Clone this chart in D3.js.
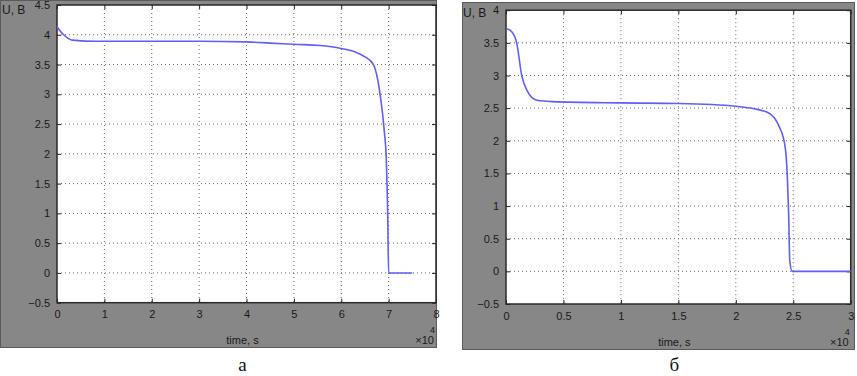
<!DOCTYPE html>
<html>
<head>
<meta charset="utf-8">
<script src="https://cdn.jsdelivr.net/npm/d3@7"></script>
<style>
  body { margin: 0; background: #fff; }
  text { font-family: "Liberation Sans", Arial, sans-serif; }
</style>
</head>
<body>
<svg id="chart" width="857" height="376"></svg>
<script>
// panel a: discharge to ~7e4 s
const timeA = [0, 0.05, 0.14, 0.32, 0.84, 2, 3, 4, 4.5, 5, 5.55, 6, 6.3, 6.5, 6.68, 6.82, 6.91, 6.95, 6.98, 7.0, 7.5];
const voltA = [4.14, 4.08, 4.0, 3.91, 3.89, 3.89, 3.89, 3.88, 3.86, 3.84, 3.82, 3.77, 3.71, 3.63, 3.5, 3.0, 2.37, 1.92, 1.0, 0, 0];
const xTicksA = [0, 1, 2, 3, 4, 5, 6, 7, 8];
const yTicksA = [-0.5, 0, 0.5, 1, 1.5, 2, 2.5, 3, 3.5, 4, 4.5];

// panel б: discharge to ~2.5e4 s
const timeB = [0, 0.05, 0.093, 0.137, 0.18, 0.27, 0.4, 1, 1.5, 2, 2.27, 2.38, 2.43, 2.45, 2.46, 2.47, 2.49, 3];
const voltB = [3.72, 3.67, 3.5, 3.0, 2.78, 2.62, 2.6, 2.58, 2.57, 2.53, 2.44, 2.21, 1.9, 1.39, 0.88, 0.16, 0, 0];
const xTicksB = [0, 0.5, 1, 1.5, 2, 2.5, 3];
const yTicksB = [-0.5, 0, 0.5, 1, 1.5, 2, 2.5, 3, 3.5, 4];

const panels = [
  { time: timeA, volt: voltA, xTicks: xTicksA, yTicks: yTicksA, xMax: 8, yMax: 4.5,
    bg: [0, 0, 437, 348], plot: [57, 5, 436, 302.7], caption: "а", yLab: [2, 14] },
  { time: timeB, volt: voltB, xTicks: xTicksB, yTicks: yTicksB, xMax: 3, yMax: 4,
    bg: [462, 2, 855, 350], plot: [506, 10.2, 850.7, 304], caption: "б", yLab: [463, 17] }
];

const svg = d3.select("#chart");

panels.forEach(p => {
  const [bx0, by0, bx1, by1] = p.bg;
  const [px0, py0, px1, py1] = p.plot;

  svg.append("rect")
    .attr("x", bx0 + 0.5).attr("y", by0 + 0.5)
    .attr("width", bx1 - bx0 - 1).attr("height", by1 - by0 - 1)
    .attr("fill", "#878787")
    .attr("stroke", "#5a5a5a");

  const x = d3.scaleLinear().domain([0, p.xMax]).range([px0, px1]);
  const y = d3.scaleLinear().domain([-0.5, p.yMax]).range([py1, py0]);

  svg.append("rect")
    .attr("x", px0).attr("y", py0)
    .attr("width", px1 - px0).attr("height", py1 - py0)
    .attr("fill", "#fff");

  const g = svg.append("g");

  // dotted grid
  g.selectAll(".vg").data(p.xTicks.slice(1, -1)).join("line")
    .attr("x1", d => x(d)).attr("x2", d => x(d))
    .attr("y1", py0).attr("y2", py1)
    .attr("stroke", "#666").attr("stroke-width", 1)
    .attr("stroke-dasharray", "1,3");
  g.selectAll(".hg").data(p.yTicks.slice(1, -1)).join("line")
    .attr("x1", px0).attr("x2", px1)
    .attr("y1", d => y(d)).attr("y2", d => y(d))
    .attr("stroke", "#666").attr("stroke-width", 1)
    .attr("stroke-dasharray", "1,3");

  // axes with inward ticks
  const xAxis = d3.axisBottom(x).tickValues(p.xTicks).tickSizeInner(-4).tickSizeOuter(0)
    .tickFormat(d3.format("~g")).tickPadding(8);
  const yAxis = d3.axisLeft(y).tickValues(p.yTicks).tickSizeInner(-4).tickSizeOuter(0)
    .tickFormat(d3.format("~g")).tickPadding(7);
  const xTop = d3.axisTop(x).tickValues(p.xTicks).tickSizeInner(-4).tickSizeOuter(0).tickFormat("");
  const yRight = d3.axisRight(y).tickValues(p.yTicks).tickSizeInner(-4).tickSizeOuter(0).tickFormat("");

  [
    [xAxis, `translate(0,${py1})`],
    [yAxis, `translate(${px0},0)`],
    [xTop, `translate(0,${py0})`],
    [yRight, `translate(${px1},0)`]
  ].forEach(([ax, tr]) => {
    const a = g.append("g").attr("transform", tr).call(ax);
    a.select(".domain").remove();
    a.selectAll("line").attr("stroke", "#222");
    a.selectAll("text").attr("fill", "#1a1a1a").style("font-size", "11px")
      .style("font-family", "'Liberation Sans', Arial, sans-serif");
  });

  svg.append("rect")
    .attr("x", px0).attr("y", py0)
    .attr("width", px1 - px0).attr("height", py1 - py0)
    .attr("fill", "none").attr("stroke", "#2a2a2a").attr("stroke-width", 1.5);

  const pts = p.time.map((t, i) => [t, p.volt[i]]);
  const line = d3.line().x(d => x(d[0])).y(d => y(d[1])).curve(d3.curveMonotoneX);
  svg.append("path")
    .datum(pts)
    .attr("d", line)
    .attr("fill", "none")
    .attr("stroke", "#5f5ff5")
    .attr("stroke-width", 1.6);

  // labels
  svg.append("text").attr("x", p.yLab[0]).attr("y", p.yLab[1])
    .style("font-size", "12px").attr("fill", "#1a1a1a").text("U, B");
  svg.append("text").attr("x", (px0 + px1) / 2 - 4).attr("y", by1 - 4)
    .attr("text-anchor", "middle").style("font-size", "11px").attr("fill", "#1a1a1a")
    .text("time, s");
  svg.append("text").attr("x", px1 - 2).attr("y", by1 - 4)
    .attr("text-anchor", "end").style("font-size", "11px").attr("fill", "#1a1a1a")
    .text("×10");
  svg.append("text").attr("x", px1 - 1).attr("y", by1 - 15)
    .attr("text-anchor", "end").style("font-size", "9px").attr("fill", "#1a1a1a")
    .text("4");

  svg.append("text").attr("x", (px0 + px1) / 2 - 4).attr("y", 371)
    .attr("text-anchor", "middle")
    .style("font-family", "'Liberation Serif', 'Times New Roman', serif")
    .style("font-size", "19px").attr("fill", "#111")
    .text(p.caption);
});
</script>
</body>
</html>
